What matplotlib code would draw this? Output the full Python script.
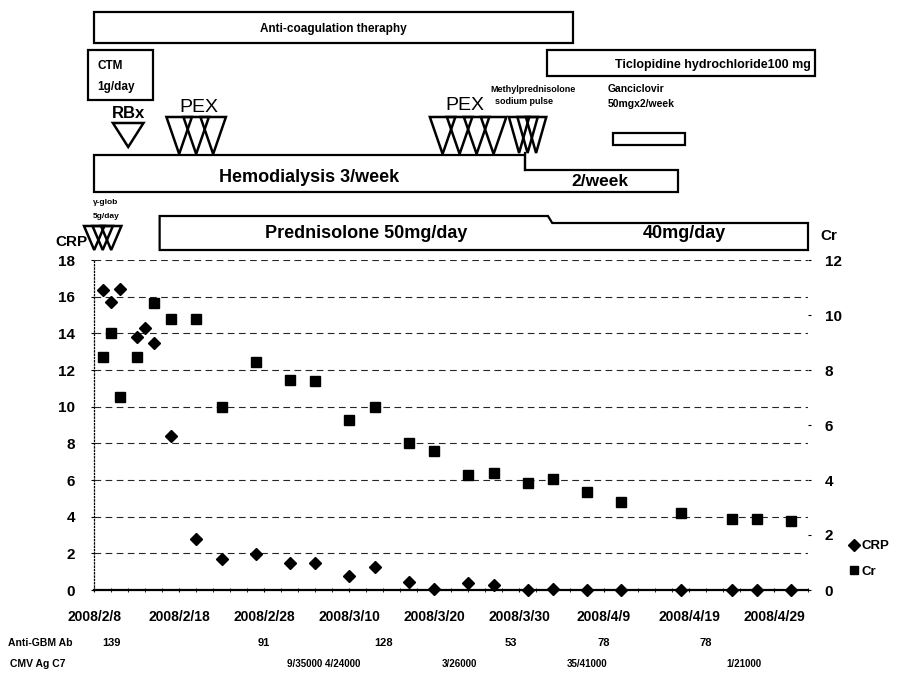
import matplotlib.pyplot as plt
from matplotlib.patches import Polygon, Rectangle
from matplotlib.lines import Line2D

plt.rcParams['font.family'] = ['Liberation Sans', 'DejaVu Sans']
plt.rcParams['font.weight'] = 'bold'

# x axis = days after 2008/2/8
date_ticks = [0, 10, 20, 30, 40, 50, 60, 70, 80]
date_labels = ['2008/2/8', '2008/2/18', '2008/2/28', '2008/3/10', '2008/3/20',
               '2008/3/30', '2008/4/9', '2008/4/19', '2008/4/29']

crp_days = [1, 2, 3, 5, 6, 7, 9, 12, 15, 19, 23, 26, 30, 33, 37, 40, 44, 47,
            51, 54, 58, 62, 69, 75, 78, 82]
crp = [16.35, 15.7, 16.44, 13.8, 14.3, 13.5, 8.4, 2.8, 1.67, 1.95, 1.45, 1.45,
       0.76, 1.27, 0.44, 0.07, 0.38, 0.26, 0.0, 0.05, 0.02, 0.0, 0.0, 0.0, 0.0, 0.0]

cr_days = [1, 2, 3, 5, 7, 9, 12, 15, 19, 23, 26, 30, 33, 37, 40, 44, 47, 51,
           54, 58, 62, 69, 75, 78, 82]
cr = [8.48, 9.36, 7.03, 8.48, 10.45, 9.84, 9.84, 6.67, 8.3, 7.64, 7.6, 6.18,
      6.67, 5.33, 5.07, 4.2, 4.27, 3.9, 4.04, 3.57, 3.21, 2.81, 2.57, 2.57, 2.52]

gbm_days = [2, 20, 34, 49, 60, 72]
gbm_vals = ['139', '91', '128', '53', '78', '78']
cmv_days = [27, 43, 58, 76.5]
cmv_vals = ['9/35000 4/24000', '3/26000', '35/41000', '1/21000']

# treatment periods (start day, end day)
anticoag = (0, 56.3)
ctm = (-0.7, 6.9)
ticlopidine = (53.3, 84.8)
ganciclovir = (61, 69.5)
hd_3week = (0, 50.7)
hd_2week = (50.7, 68.7)
psl_50 = (7.7, 53.4)
psl_40 = (53.4, 84)
rbx_days = [4]
pex1_days = [10, 12, 14]
pex2_days = [41, 43, 45, 47]
mpsl_days = [50, 51, 52]
gglob_days = [0, 1, 2]

W, H = 898, 673
fig = plt.figure(figsize=(W / 100, H / 100), dpi=100)
x0, x1, ytop, ybot = 94.2, 808, 260, 590
ax = fig.add_axes([x0 / W, 1 - ybot / H, (x1 - x0) / W, (ybot - ytop) / H])
ax.set_xlim(0, 84)
ax.set_ylim(0, 18)
ax.set_yticks(range(0, 19, 2))
ax.set_xticks(date_ticks)
ax.set_xticklabels(date_labels, fontsize=10)
ax.set_xticks(range(0, 85, 2), minor=True)
ax.tick_params(axis='x', which='both', direction='inout', length=3, pad=13)
ax.tick_params(axis='y', length=2, pad=12, labelsize=11)
ax.grid(axis='y', color='0.15', lw=0.8, ls=(0, (6, 4)))
for s in ['top', 'right']:
    ax.spines[s].set_visible(False)
ax.spines['left'].set_linestyle(':')
ax.spines['left'].set_linewidth(0.9)
ax.spines['bottom'].set_linewidth(1.6)

ax2 = ax.twinx()
ax2.set_ylim(0, 12)
ax2.set_yticks(range(0, 13, 2))
ax2.tick_params(axis='y', length=2, pad=10, labelsize=11)
for s in ax2.spines.values():
    s.set_visible(False)

ax.plot(crp_days, crp, 'D', ms=6.5, color='black', clip_on=False, zorder=5)
ax2.plot(cr_days, cr, 's', ms=6.5, color='black', clip_on=False, zorder=5)

handles = [Line2D([], [], marker='D', ls='', ms=6, color='black'),
           Line2D([], [], marker='s', ls='', ms=6, color='black')]
fig.legend(handles, ['CRP', 'Cr'], loc='upper left', frameon=False,
           bbox_to_anchor=(846 / W, 1 - 536 / H), handlelength=0.6,
           handletextpad=0.3, fontsize=9.5, labelspacing=1.0,
           borderaxespad=0, borderpad=0.3)

fig.text(88 / W, 1 - 242 / H, 'CRP', ha='right', va='center', fontsize=11)
fig.text(820 / W, 1 - 236 / H, 'Cr', ha='left', va='center', fontsize=11)

# rows under the axis
fig.text(8 / W, 1 - 643 / H, 'Anti-GBM Ab', fontsize=7.5, va='center')
fig.text(10 / W, 1 - 664 / H, 'CMV Ag C7', fontsize=7.5, va='center')

# overlay axes: x in days, y in pixel rows
top = fig.add_axes([x0 / W, 0, (x1 - x0) / W, 1])
top.set_xlim(0, 84)
top.set_ylim(H, 0)
top.axis('off')

for d, v in zip(gbm_days, gbm_vals):
    top.text(d, 643, v, ha='center', va='center', fontsize=8)
for d, v in zip(cmv_days, cmv_vals):
    top.text(d, 664, v, ha='center', va='center', fontsize=7)


def box(d0, d1, y0, y1):
    top.add_patch(Rectangle((d0, y0), d1 - d0, y1 - y0, fill=False, lw=1.6,
                            ec='black', clip_on=False))


def tris(days, width, y0, y1):
    for d in days:
        top.add_patch(Polygon([(d - width / 2, y0), (d + width / 2, y0), (d, y1)],
                              closed=True, fill=False, lw=1.8, ec='black',
                              clip_on=False))


box(anticoag[0], anticoag[1], 12, 43)
top.text(sum(anticoag) / 2, 29, 'Anti-coagulation theraphy', ha='center',
         va='center', fontsize=8.5)

box(ctm[0], ctm[1], 50, 100)
top.text(ctm[0] + 1.1, 66, 'CTM', ha='left', va='center', fontsize=8.5)
top.text(ctm[0] + 1.1, 87, '1g/day', ha='left', va='center', fontsize=8.5)

box(ticlopidine[0], ticlopidine[1], 50, 76)
top.text(ticlopidine[1] - 0.5, 65, 'Ticlopidine hydrochloride100 mg', ha='right',
         va='center', fontsize=9)

top.text(ganciclovir[0] - 0.6, 89, 'Ganciclovir', ha='left', va='center', fontsize=7.5)
top.text(ganciclovir[0] - 0.6, 104, '50mgx2/week', ha='left', va='center', fontsize=7.5)
box(ganciclovir[0], ganciclovir[1], 133, 145)

top.text(rbx_days[0], 113, 'RBx', ha='center', va='center', fontsize=12)
tris(rbx_days, 3.6, 123, 147)

top.text(sum(pex1_days) / 3 + 0.3, 107, 'PEX', ha='center', va='center',
         fontsize=14, fontweight='normal')
tris(pex1_days, 3.0, 117, 154)
top.text(sum(pex2_days) / 4 - 0.4, 106, 'PEX', ha='center', va='center',
         fontsize=14, fontweight='normal')
tris(pex2_days, 3.0, 117, 154)
top.text(mpsl_days[0] - 3.4, 89, 'Methylprednisolone', ha='left', va='center', fontsize=6.5)
top.text(mpsl_days[0] - 2.8, 102, 'sodium pulse', ha='left', va='center', fontsize=6.5)
tris(mpsl_days, 2.4, 117, 153)

# hemodialysis 3/week -> 2/week
top.add_patch(Polygon([(hd_3week[0], 155), (hd_3week[1], 155), (hd_2week[0], 170),
                       (hd_2week[1], 170), (hd_2week[1], 192), (hd_3week[0], 192)],
                      closed=True, fill=False, lw=1.6, ec='black', clip_on=False))
top.plot([hd_2week[0], hd_2week[0]], [153, 170], color='black', lw=1.6)
top.text(25.3, 177, 'Hemodialysis 3/week', ha='center', va='center', fontsize=13)
top.text(59.5, 181, '2/week', ha='center', va='center', fontsize=12.5)

top.text(gglob_days[0] - 0.2, 202, 'γ-glob', ha='left', va='center', fontsize=6)
top.text(gglob_days[0] - 0.2, 216, '5g/day', ha='left', va='center', fontsize=6)
tris(gglob_days, 2.4, 226, 250)

# prednisolone 50 -> 40 mg/day
top.add_patch(Polygon([(psl_50[0], 216), (psl_50[1], 216), (psl_40[0] + 0.5, 223),
                       (psl_40[1], 223), (psl_40[1], 250), (psl_50[0], 250)],
                      closed=True, fill=False, lw=1.6, ec='black', clip_on=False))
top.text(32, 234, 'Prednisolone 50mg/day', ha='center', va='center', fontsize=13)
top.text(69.5, 234, '40mg/day', ha='center', va='center', fontsize=13)

fig.savefig('out.png', dpi=100)
